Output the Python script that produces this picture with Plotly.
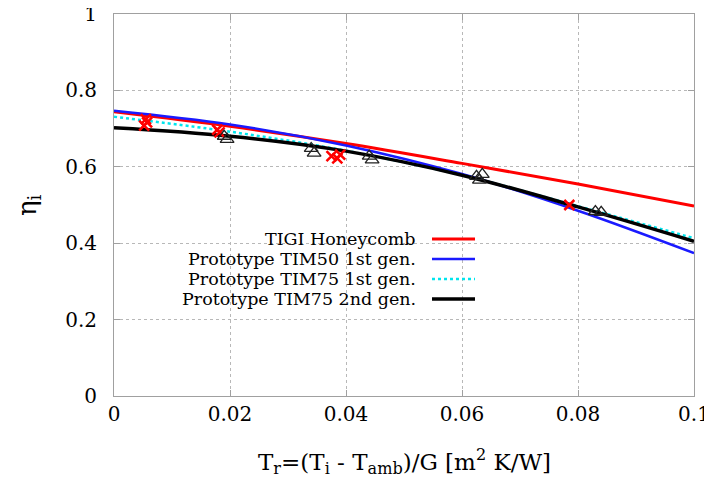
import plotly.graph_objects as go

# ---- data ----
tr_grid = [0.0, 0.02, 0.04, 0.06, 0.08, 0.1]
eta_tigi = [0.744, 0.706, 0.661, 0.609, 0.555, 0.497]
eta_tim50_1st = [0.747, 0.711, 0.656, 0.581, 0.485, 0.374]
eta_tim75_1st = [0.731, 0.692, 0.642, 0.578, 0.497, 0.413]
eta_tim75_2nd = [0.702, 0.680, 0.641, 0.578, 0.495, 0.405]

tigi_pts_x = [0.0055, 0.0057, 0.0052, 0.0178, 0.0182, 0.0375, 0.0385, 0.0390, 0.0785]
tigi_pts_y = [0.725, 0.716, 0.708, 0.697, 0.690, 0.628, 0.622, 0.632, 0.500]

tim75_pts_x = [0.0190, 0.0195, 0.0340, 0.0345, 0.0440, 0.0445, 0.0625, 0.0630, 0.0635, 0.0830, 0.0840]
tim75_pts_y = [0.680, 0.672, 0.648, 0.636, 0.628, 0.618, 0.575, 0.565, 0.580, 0.483, 0.481]

series_names = ["TIGI Honeycomb", "Prototype TIM50 1st gen.",
                "Prototype TIM75 1st gen.", "Prototype TIM75 2nd gen."]
series_values = [eta_tigi, eta_tim50_1st, eta_tim75_1st, eta_tim75_2nd]
series_colors = ["#ff0000", "#1a1aff", "#00e5ee", "#000000"]
series_widths = [3, 2.5, 2.5, 3.5]
series_dash = ["solid", "solid", "dot", "solid"]

x_ticks = [0, 0.02, 0.04, 0.06, 0.08, 0.1]
x_ticklabels = ["0", "0.02", "0.04", "0.06", "0.08", "0.1"]
y_ticks = [0, 0.2, 0.4, 0.6, 0.8, 1]
y_ticklabels = ["0", "0.2", "0.4", "0.6", "0.8", "1"]

FONT = "DejaVu Serif"

fig = go.Figure()
for name, vals, col, w, d in zip(series_names, series_values, series_colors, series_widths, series_dash):
    fig.add_trace(go.Scatter(x=tr_grid, y=vals, mode="lines", name=name,
                             line=dict(color=col, width=w, dash=d, shape="spline"),
                             showlegend=False))

fig.add_trace(go.Scatter(x=tigi_pts_x, y=tigi_pts_y, mode="markers", showlegend=False,
                         marker=dict(symbol="x-thin", size=10, line=dict(color="#ff0000", width=2.5))))
fig.add_trace(go.Scatter(x=tim75_pts_x, y=tim75_pts_y, mode="markers", showlegend=False,
                         marker=dict(symbol="triangle-up-open", size=12, color="#222222",
                                     line=dict(color="#222222", width=1.3))))

# page offset from default body margin
OFF = 8
FIG_W, FIG_H = 712, 484 - OFF
# desired plot-area location in page pixels
plot_l, plot_r, plot_t, plot_b = 114, 694, 14, 396
W, H = plot_r - plot_l, plot_b - plot_t

# manual gnuplot-style key: text right-aligned, sample on the right
row_px = [239, 259, 279, 299]
for name, col, w, d, ry in zip(series_names, series_colors, series_widths, series_dash, row_px):
    yp = (plot_b - ry) / H
    fig.add_annotation(x=(418 - plot_l) / W, y=yp, xref="paper", yref="paper",
                       text=name, showarrow=False, xanchor="right", yanchor="middle",
                       font=dict(family=FONT, size=17.5, color="black"))
    fig.add_shape(type="line", xref="paper", yref="paper",
                  x0=(432 - plot_l) / W, x1=(475 - plot_l) / W, y0=yp, y1=yp,
                  line=dict(color=col, width=w, dash=d))

fig.add_annotation(x=(28 - plot_l) / W, y=(plot_b - 205) / H, xref="paper", yref="paper",
                   text="η<sub>i</sub>", showarrow=False, textangle=-90,
                   xanchor="center", yanchor="middle",
                   font=dict(family=FONT, size=26, color="black"))
fig.add_annotation(x=0.5, y=(plot_b - 461) / H, xref="paper", yref="paper",
                   text="T<sub>r</sub>=(T<sub>i</sub> - T<sub>amb</sub>)/G [m<sup>2</sup> K/W]",
                   showarrow=False, xanchor="center", yanchor="middle",
                   font=dict(family=FONT, size=23, color="black"))

axis_common = dict(showline=True, linecolor="#a0a0a0", linewidth=1, mirror="ticks",
                   ticks="inside", ticklen=6, tickcolor="#a0a0a0", automargin=False,
                   ticklabeloverflow="allow",
                   showgrid=True, gridcolor="#b8b8b8", gridwidth=1, griddash="dot",
                   zeroline=False, tickfont=dict(family=FONT, size=20, color="black"))
fig.update_xaxes(range=[0, 0.1], tickvals=x_ticks, ticktext=x_ticklabels, **axis_common)
fig.update_yaxes(range=[0, 1], tickvals=y_ticks, ticktext=y_ticklabels, ticklabelstandoff=12, **axis_common)

fig.update_layout(width=FIG_W, height=FIG_H,
                  margin=dict(l=plot_l - OFF, r=FIG_W - (plot_r - OFF), t=plot_t - OFF, b=484 - plot_b),
                  plot_bgcolor="white", paper_bgcolor="white", showlegend=False,
                  font=dict(family=FONT))

fig.write_html("out.html")
